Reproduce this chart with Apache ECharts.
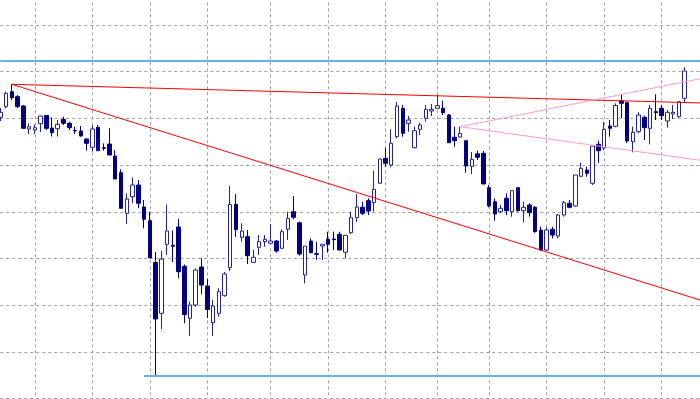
<!DOCTYPE html>
<html><head><meta charset="utf-8">
<script src="https://cdn.jsdelivr.net/npm/echarts/dist/echarts.min.js"></script>
<style>html,body{margin:0;padding:0;background:#fff}#c{width:700px;height:399px}</style>
</head><body><div id="c"></div>
<script>
// Prices in chart units (no axis labels visible in the reference)
const opens = [281.4,292.0,307.0,302.0,292.7,269.7,268.7,275.0,283.2,270.7,
270.0,279.2,275.4,268.4,267.7,259.7,251.4,271.4,251.0,254.7,
242.7,226.0,185.4,202.0,213.7,191.7,178.0,136.2,85.4,154.4,
153.4,171.7,132.4,80.4,93.7,131.7,112.7,76.0,85.4,103.0,
131.0,194.2,161.4,162.0,136.4,151.4,157.0,155.4,157.7,150.4,
169.4,187.0,176.0,123.7,157.7,145.0,152.7,159.4,159.7,164.4,
146.4,166.0,181.0,191.4,198.0,196.0,215.4,240.4,233.7,262.0,
290.4,275.4,251.0,269.4,280.4,287.7,290.4,290.4,283.7,261.4,
261.7,258.0,232.4,244.9,245.4,211.0,197.0,187.0,200.4,187.0,
211.0,188.0,193.7,191.4,168.7,148.7,169.4,162.7,183.7,195.4,
192.7,222.4,228.7,215.4,254.4,250.7,272.7,272.4,298.0,296.0,
257.0,267.0,281.4,270.4,287.0,290.4,277.7,284.7,282.0,300.4];
const closes = [286.4,305.4,301.0,292.0,270.4,272.0,271.0,282.7,270.4,266.0,
274.4,275.4,271.0,267.7,262.7,255.4,269.7,248.0,250.4,243.7,
219.7,190.4,199.7,213.7,195.4,179.4,140.7,79.7,139.7,167.7,
152.4,127.0,84.2,93.7,128.7,113.7,89.2,92.7,107.0,124.7,
194.2,169.0,167.7,143.0,141.4,157.0,159.4,157.7,147.7,167.0,
180.4,181.4,144.7,152.7,146.0,144.4,154.4,154.4,159.0,148.7,
163.4,181.0,191.7,185.4,187.7,209.4,239.7,235.4,255.4,292.7,
265.4,278.7,268.0,273.7,289.4,289.4,293.0,286.0,256.0,258.0,
265.4,232.7,239.4,241.4,214.7,192.7,184.7,190.4,188.0,208.0,
188.0,191.4,186.0,167.0,148.7,168.7,163.7,183.7,196.0,191.4,
223.7,230.4,225.4,252.7,248.0,269.4,270.4,293.2,295.4,257.7,
266.4,283.7,271.0,290.4,286.0,283.0,286.4,286.4,297.0,327.7];
const lows = [277.7,290.4,298.7,290.7,269.7,264.7,264.7,266.7,268.7,262.2,
262.2,273.7,268.7,264.7,262.2,248.0,247.0,247.7,248.0,243.7,
219.7,190.4,174.7,195.4,190.4,170.4,140.7,22.7,69.7,143.7,
136.7,120.4,75.4,62.7,92.0,104.7,80.7,62.7,82.0,102.0,
127.7,161.7,157.0,134.7,136.2,143.7,152.0,155.2,146.0,150.2,
158.7,179.4,143.0,115.4,145.4,138.7,138.7,146.0,148.7,148.2,
140.4,164.7,176.7,183.7,183.7,187.0,215.2,232.0,231.4,260.4,
262.0,267.0,250.4,263.7,277.0,282.7,290.2,283.7,256.0,252.0,
261.2,226.0,224.7,238.7,214.7,191.4,178.0,185.4,183.7,182.0,
187.0,176.0,182.0,166.0,148.0,148.0,160.4,160.4,182.0,190.4,
192.0,222.0,222.0,213.7,236.0,248.7,262.0,271.4,280.7,255.7,
246.4,265.4,258.7,254.4,278.7,278.7,271.0,279.7,281.0,296.4];
const highs = [290.7,307.0,314.4,303.7,293.7,275.4,274.2,283.0,283.7,281.4,
278.7,282.0,277.0,272.0,272.7,260.2,273.7,273.7,255.4,270.4,
248.7,229.4,205.4,221.4,218.7,198.7,187.0,146.7,147.7,194.2,
168.2,179.9,134.2,97.2,130.2,140.4,119.7,98.7,110.4,126.7,
212.7,204.7,175.4,168.7,148.7,163.7,163.7,174.4,158.7,169.4,
187.0,202.7,177.0,152.7,160.4,157.0,154.4,167.0,167.0,167.0,
163.4,187.0,204.7,197.0,200.4,228.0,240.2,251.0,269.4,297.0,
293.7,282.7,272.0,276.0,293.7,294.7,303.7,298.0,284.7,272.0,
272.0,258.7,246.7,248.0,247.7,213.7,200.4,193.7,205.4,208.7,
211.2,197.0,195.4,192.7,172.0,171.4,172.0,184.7,197.7,198.7,
223.7,236.0,232.0,252.7,258.0,276.7,278.7,295.4,304.2,297.0,
272.0,286.4,283.0,293.7,304.4,293.7,288.7,293.7,297.2,331.4];

// candles that carry a vertical grid line
const gridCandles = [6,16,26,36,47,57,67,76,85,95,105,115];
// empty slots on the right (chart shift)
const emptySlots = 3;

// drawn objects: horizontal levels and trend lines, [candle index, price]
const levelTop = 337.7;
const levelLow = [[25, 22.7], [122, 22.7]];
const redLineFlat = [[2, 314.4], [122, 295.7]];
const redLineDown = [[2, 314.4], [122, 98.1]];
const pinkUpper = [[80, 272.0], [122, 320.3]];
const pinkLower = [[80, 272.0], [122, 238.2]];

const gridStep = 46.71;

const categories = [];
for (let i = 0; i < opens.length + emptySlots; i++) categories.push(String(i));
const candles = opens.map((o, i) => [o, closes[i], lows[i], highs[i]]);

const blue = '#66b0f2', red = '#ff0000', pink = '#ff9acd';
function seg(pts, color, width) {
  return [{coord: pts[0], lineStyle: {color: color, width: width, type: 'solid'}}, {coord: pts[1]}];
}

const chart = echarts.init(document.getElementById('c'), null, {renderer: 'canvas'});
chart.setOption({
  animation: false,
  backgroundColor: '#ffffff',
  grid: {left: 0.25, right: -1.75, top: -21.69, bottom: 0.3, containLabel: false, outerBoundsMode: 'none'},
  xAxis: {
    type: 'category', data: categories, boundaryGap: false,
    axisLine: {show: false}, axisTick: {show: false}, axisLabel: {show: false},
    splitLine: {show: true, interval: (idx) => gridCandles.indexOf(idx) >= 0,
      lineStyle: {color: '#a0a0a0', width: 1, type: [3, 3]}}
  },
  yAxis: {
    type: 'value', min: 0, max: gridStep * 9, interval: gridStep, scale: false,
    axisLine: {show: false}, axisTick: {show: false}, axisLabel: {show: false},
    splitLine: {show: true, lineStyle: {color: '#a0a0a0', width: 1, type: [3, 3]}}
  },
  series: [{
    type: 'candlestick',
    data: candles,
    barWidth: 4,
    itemStyle: {color: '#ffffff', color0: '#000080', borderColor: '#24248e', borderColor0: '#000080', borderWidth: 1},
    markLine: {
      silent: true, symbol: ['none', 'none'], label: {show: false}, animation: false,
      data: [
        {yAxis: levelTop, lineStyle: {color: blue, width: 2, type: 'solid'}},
        seg(levelLow, blue, 2),
        seg(redLineFlat, red, 1),
        seg(redLineDown, red, 1),
        seg(pinkUpper, pink, 1),
        seg(pinkLower, pink, 1)
      ]
    }
  }]
});
</script>
</body></html>
